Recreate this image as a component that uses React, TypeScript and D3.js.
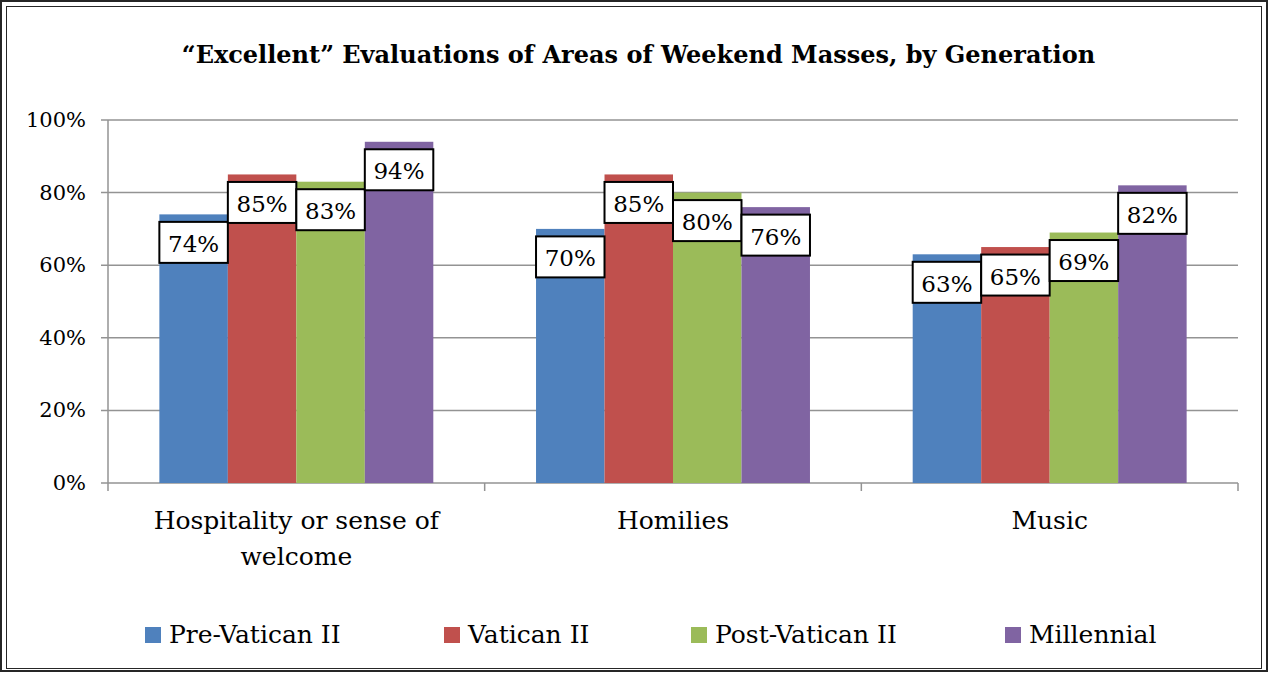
import * as d3 from "d3";

const categories = ["Hospitality or sense of welcome", "Homilies", "Music"];
const categoryLines = [["Hospitality or sense of", "welcome"], ["Homilies"], ["Music"]];
const series = ["Pre-Vatican II", "Vatican II", "Post-Vatican II", "Millennial"];
const colors = ["#4F81BD", "#C0504D", "#9BBB59", "#8064A2"];

// values per series, in category order
const preVatican = [0.74, 0.7, 0.63];
const vatican = [0.85, 0.85, 0.65];
const postVatican = [0.83, 0.8, 0.69];
const millennial = [0.94, 0.76, 0.82];
const values = [preVatican, vatican, postVatican, millennial];

const yTicks = [0, 0.2, 0.4, 0.6, 0.8, 1];

const W = 1269;
const H = 673;
const FONT = "DejaVu Serif";

export default function App() {
  const x0 = d3.scaleBand().domain(categories).range([108, 1238]);
  const x1 = d3
    .scaleBand()
    .domain(series)
    .range([0, x0.bandwidth()])
    .paddingInner(0)
    .paddingOuter(0.75);
  const y = d3.scaleLinear().domain([0, 1]).range([483, 120]);
  const pct = d3.format(".0%");

  const legendX = [145, 444, 691, 1005];

  return (
    <>
      <style>{"body{margin:0}"}</style>
      <svg width={W} height={H} style={{ display: "block" }}>
        <rect x={0} y={0} width={W} height={H} fill="#fff" />
        {/* double frame */}
        <rect x={1} y={1} width={1266} height={670} fill="none" stroke="#262626" strokeWidth={2} />
        <rect x={6.5} y={6.5} width={1255} height={662} fill="none" stroke="#262626" strokeWidth={1} />

        <text x={638.5} y={63} textAnchor="middle" fontFamily={FONT} fontSize={24} fontWeight="bold" fill="#000">
          “Excellent” Evaluations of Areas of Weekend Masses, by Generation
        </text>

        {/* gridlines + y labels */}
        {yTicks.map((t) => (
          <g key={t}>
            <line x1={101} x2={1238} y1={y(t)} y2={y(t)} stroke="#939393" strokeWidth={1.5} />
            <text x={86} y={y(t)} dy="0.33em" textAnchor="end" fontFamily={FONT} fontSize={21} fill="#000">
              {pct(t)}
            </text>
          </g>
        ))}

        {/* y axis */}
        <line x1={108} x2={108} y1={y(1)} y2={y(0)} stroke="#939393" strokeWidth={1.5} />
        {/* x axis ticks */}
        {[...categories.map((c) => x0(c)!), 1238].map((tx, i) => (
          <line key={i} x1={tx} x2={tx} y1={y(0)} y2={y(0) + 8} stroke="#939393" strokeWidth={1.5} />
        ))}

        {/* bars */}
        {categories.map((c, ci) => (
          <g key={c} transform={`translate(${x0(c)},0)`}>
            {series.map((s, si) => {
              const v = values[si][ci];
              return (
                <rect
                  key={s}
                  x={x1(s)}
                  y={y(v)}
                  width={x1.bandwidth()}
                  height={y(0) - y(v)}
                  fill={colors[si]}
                />
              );
            })}
          </g>
        ))}

        {/* data labels */}
        {categories.map((c, ci) => (
          <g key={c} transform={`translate(${x0(c)},0)`}>
            {series.map((s, si) => {
              const v = values[si][ci];
              const bx = x1(s)!;
              const by = y(v) + 7.5;
              return (
                <g key={s}>
                  <rect
                    x={bx}
                    y={by}
                    width={x1.bandwidth()}
                    height={41}
                    fill="#fff"
                    stroke="#000"
                    strokeWidth={2}
                  />
                  <text
                    x={bx + x1.bandwidth() / 2}
                    y={by + 30}
                    textAnchor="middle"
                    fontFamily={FONT}
                    fontSize={23}
                    fill="#000"
                  >
                    {pct(v)}
                  </text>
                </g>
              );
            })}
          </g>
        ))}

        {/* category labels */}
        {categories.map((c, ci) => (
          <text
            key={c}
            x={x0(c)! + x0.bandwidth() / 2}
            y={529}
            textAnchor="middle"
            fontFamily={FONT}
            fontSize={25}
            fill="#000"
          >
            {categoryLines[ci].map((line, li) => (
              <tspan key={li} x={x0(c)! + x0.bandwidth() / 2} dy={li === 0 ? 0 : 36}>
                {line}
              </tspan>
            ))}
          </text>
        ))}

        {/* legend */}
        {series.map((s, si) => (
          <g key={s}>
            <rect x={legendX[si]} y={627} width={16} height={16} fill={colors[si]} />
            <text x={legendX[si] + 24} y={643} fontFamily={FONT} fontSize={25} fill="#000">
              {s}
            </text>
          </g>
        ))}
      </svg>
    </>
  );
}
